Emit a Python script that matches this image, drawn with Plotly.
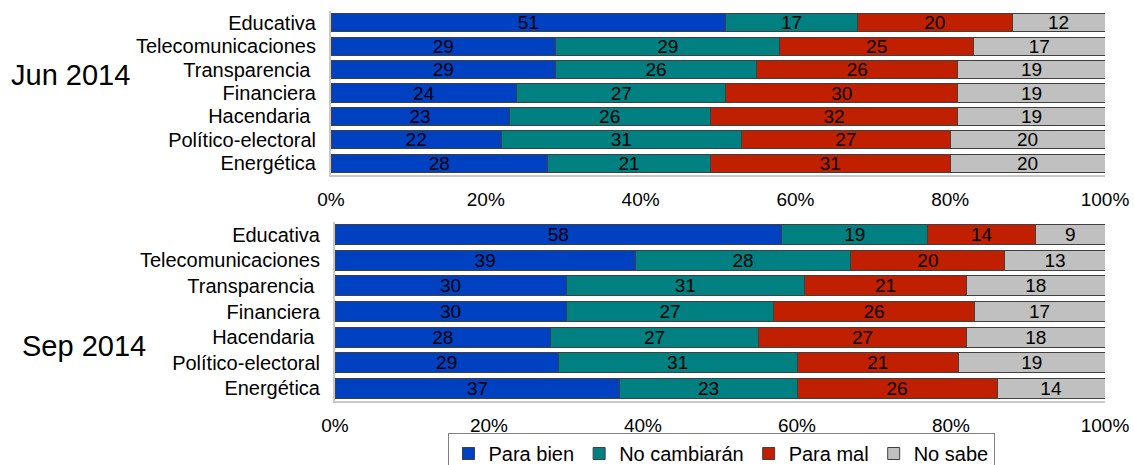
import plotly.graph_objects as go

# Reform categories (top to bottom)
categories = ["Educativa", "Telecomunicaciones", "Transparencia ", "Financiera",
              "Hacendaria ", "Político-electoral", "Energética"]

series_names = ["Para bien", "No cambiarán", "Para mal", "No sabe"]
colors = ["#0041C2", "#008080", "#C02000", "#C0C0C0"]

# June 2014 survey (%)
jun_para_bien = [51, 29, 29, 24, 23, 22, 28]
jun_no_cambiaran = [17, 29, 26, 27, 26, 31, 21]
jun_para_mal = [20, 25, 26, 30, 32, 27, 31]
jun_no_sabe = [12, 17, 19, 19, 19, 20, 20]

# September 2014 survey (%)
sep_para_bien = [58, 39, 30, 30, 28, 29, 37]
sep_no_cambiaran = [19, 28, 31, 27, 27, 31, 23]
sep_para_mal = [14, 20, 21, 26, 27, 21, 26]
sep_no_sabe = [9, 13, 18, 17, 18, 19, 14]

x_ticks = [0, 20, 40, 60, 80, 100]

FONT = "Liberation Sans, Arial, sans-serif"
FS = 19

W, H = 1134, 465
LEGEND_TOP = 433          # legend box top edge (px from top)
PLOT_H = LEGEND_TOP       # the container-anchored legend reserves the strip below it


def fy(px):
    """Paper y fraction for a pixel row measured from the top."""
    return 1 - px / PLOT_H


fig = go.Figure()

panels = [
    ("x", "y", [jun_para_bien, jun_no_cambiaran, jun_para_mal, jun_no_sabe], True),
    ("x2", "y2", [sep_para_bien, sep_no_cambiaran, sep_para_mal, sep_no_sabe], False),
]

for xa, ya, values, show in panels:
    for name, color, vals in zip(series_names, colors, values):
        fig.add_trace(go.Bar(
            orientation="h",
            y=categories,
            x=vals,
            name=name,
            xaxis=xa,
            yaxis=ya,
            marker=dict(color=color, line=dict(color="#404040", width=1)),
            text=[str(v) for v in vals],
            textposition="inside",
            insidetextanchor="middle",
            textangle=0,
            textfont=dict(color="black", size=FS, family=FONT),
            legendgroup=name,
            showlegend=show,
            hoverinfo="skip",
        ))

xaxis_common = dict(
    range=[0, 100],
    tickvals=x_ticks,
    ticktext=[f"{t}%" for t in x_ticks],
    showgrid=False,
    zeroline=False,
    showline=True,
    linecolor="#C8C8C8",
    linewidth=2,
    ticks="",
    ticklabelstandoff=6,
    tickfont=dict(size=FS, family=FONT, color="black"),
    automargin=False,
)
yaxis_common = dict(
    categoryorder="array",
    categoryarray=categories,
    tickmode="array",
    tickvals=categories,
    ticktext=categories,
    autorange="reversed",
    showgrid=False,
    zeroline=False,
    showline=True,
    linecolor="#C8C8C8",
    linewidth=2,
    ticks="",
    ticklabelstandoff=9,
    tickfont=dict(size=20, family=FONT, color="black"),
    automargin=False,
)

fig.update_layout(
    width=W,
    height=H,
    margin=dict(l=0, r=0, t=0, b=0),
    paper_bgcolor="white",
    plot_bgcolor="white",
    barmode="stack",
    bargap=0.22,
    font=dict(family=FONT, size=FS, color="black"),
    uniformtext=dict(minsize=FS, mode="show"),
    xaxis=dict(domain=[331 / W, 1105 / W], anchor="y", **xaxis_common),
    yaxis=dict(domain=[fy(175), fy(11)], anchor="x", **yaxis_common),
    xaxis2=dict(domain=[335 / W, 1105 / W], anchor="y2", **xaxis_common),
    yaxis2=dict(domain=[fy(401), fy(222)], anchor="x2", **yaxis_common),
    legend=dict(
        orientation="h",
        xref="container",
        yref="container",
        x=721 / W,
        xanchor="center",
        y=1 - LEGEND_TOP / H,
        yanchor="top",
        bgcolor="rgba(255,255,255,0)",
        bordercolor="#808080",
        borderwidth=1,
        font=dict(size=20, family=FONT, color="black"),
        itemwidth=30,
        traceorder="normal",
    ),
    annotations=[
        dict(text="Jun 2014", x=70 / W, y=fy(75), xref="paper", yref="paper",
             xanchor="center", yanchor="middle",
             showarrow=False, font=dict(size=29, family=FONT, color="black")),
        dict(text="Sep 2014", x=84 / W, y=fy(346), xref="paper", yref="paper",
             xanchor="center", yanchor="middle",
             showarrow=False, font=dict(size=29, family=FONT, color="black")),
    ],
)

fig.write_html("out.html")
